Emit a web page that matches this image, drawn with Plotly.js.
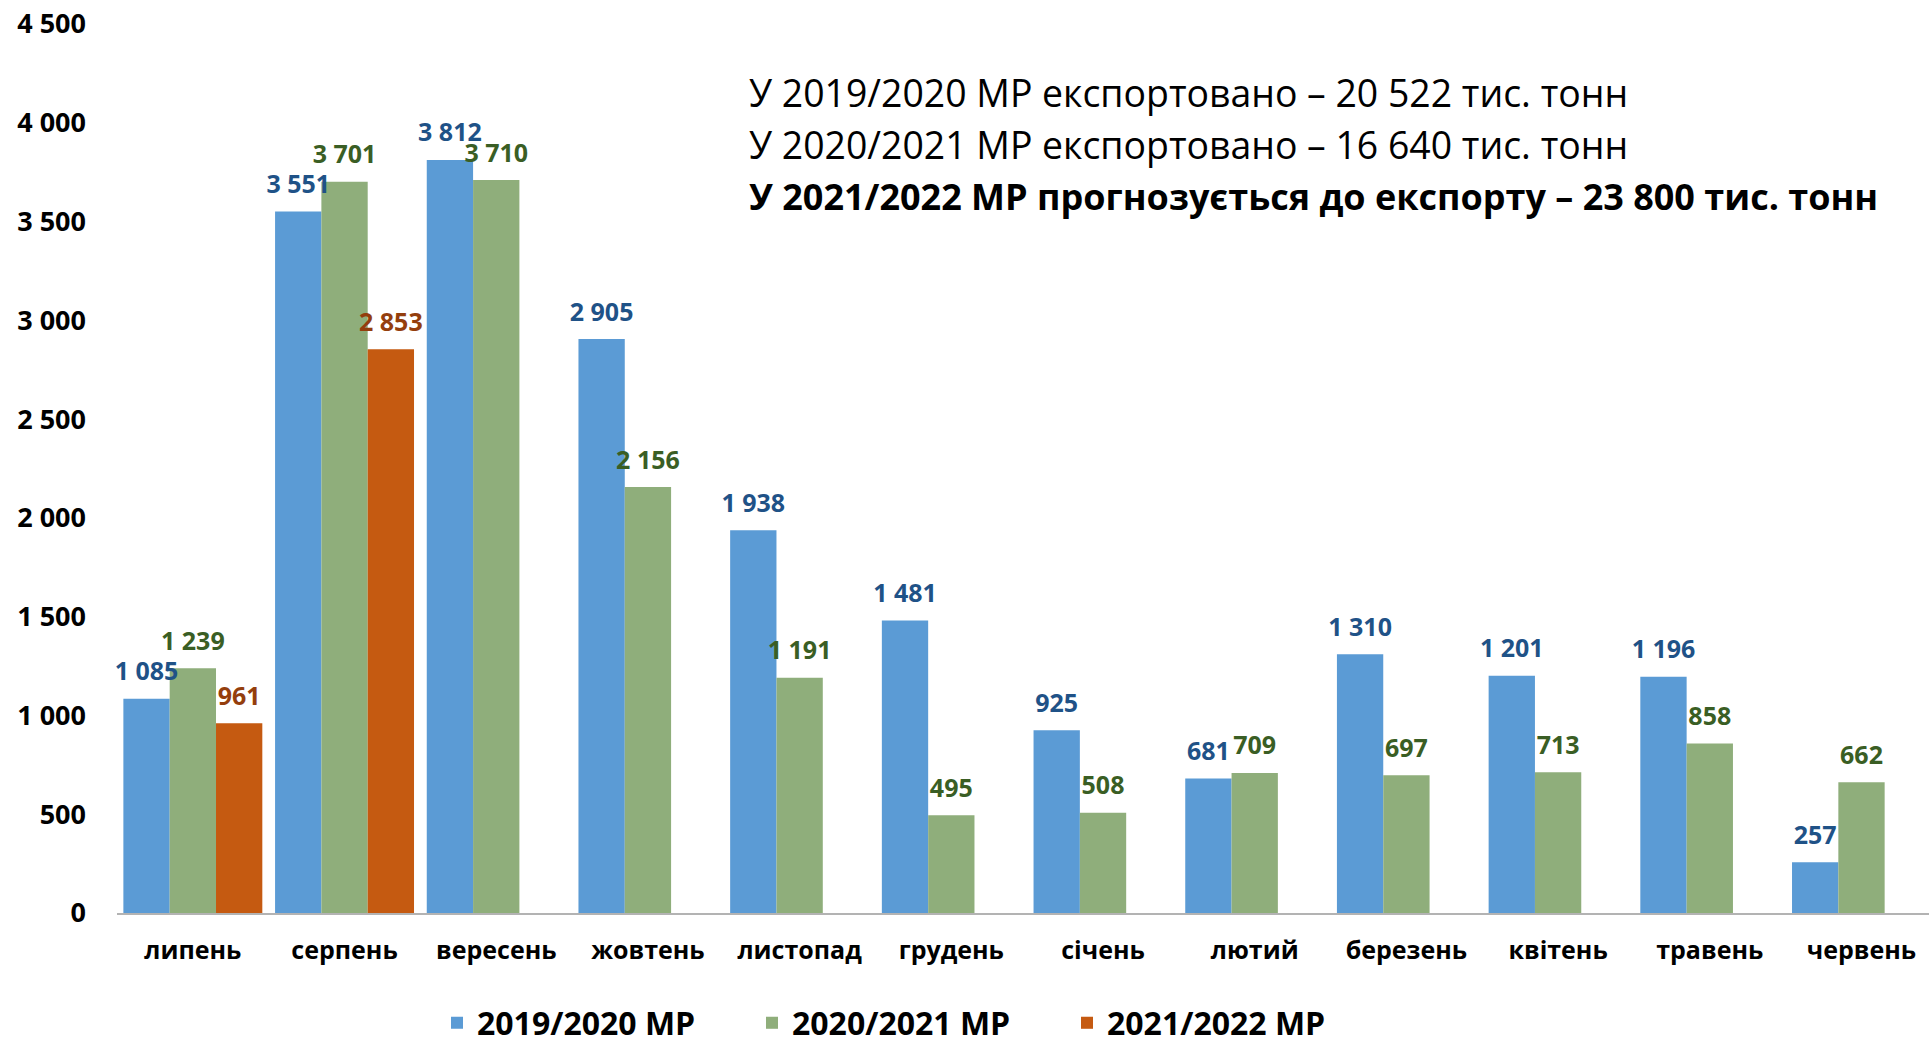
<!DOCTYPE html>
<html>
<head>
<meta charset="utf-8">
<script src="https://cdn.plot.ly/plotly-3.0.1.min.js"></script>
<style>html,body{margin:0;padding:0;background:#fff;}#chart{width:1929px;height:1046px;}</style>
</head>
<body>
<div id="chart"></div>
<script>
const months = ['липень','серпень','вересень','жовтень','листопад','грудень','січень','лютий','березень','квітень','травень','червень'];
const seriesNames = ['2019/2020 МР','2020/2021 МР','2021/2022 МР'];
const v2019 = [1085,3551,3812,2905,1938,1481,925,681,1310,1201,1196,257];
const v2020 = [1239,3701,3710,2156,1191,495,508,709,697,713,858,662];
const v2021 = [961,2853,null,null,null,null,null,null,null,null,null,null];
const yTickVals = [0,500,1000,1500,2000,2500,3000,3500,4000,4500];
const noteLines = [
  'У 2019/2020 МР експортовано – 20 522 тис. тонн',
  'У 2020/2021 МР експортовано – 16 640 тис. тонн',
  '<b>У 2021/2022 МР прогнозується до експорту – 23 800 тис. тонн</b>'
];

const FONT = 'Open Sans, Noto Sans, sans-serif';
const fmt = v => (v === null ? '' : String(v).replace(/\B(?=(\d{3})+(?!\d))/g, ' '));

const colors = ['#5B9BD5', '#8FAE7B', '#C55A11'];
const labelColors = ['#1F5287', '#3A5E24', '#943E0D'];
const allSeries = [v2019, v2020, v2021];

const data = [];
allSeries.forEach((vals, i) => {
  data.push({
    type: 'bar', name: seriesNames[i], x: months, y: vals,
    offsetgroup: 'g' + i,
    marker: {color: colors[i]}, hoverinfo: 'none'
  });
});
allSeries.forEach((vals, i) => {
  data.push({
    type: 'scatter', mode: 'markers+text', x: months, y: vals,
    offsetgroup: 'g' + i, showlegend: false, hoverinfo: 'none',
    text: vals.map(fmt), textposition: 'top center', cliponaxis: false,
    textfont: {family: FONT, size: 25, color: labelColors[i], weight: 'bold'},
    marker: {size: 18, opacity: 0, color: colors[i], line: {width: 0}}
  });
});

const noteY = [0.9224, 0.8642, 0.8057];
const noteSize = [37.4, 37.4, 36];
const layout = {
  width: 1929, height: 1046, autosize: false,
  margin: {l: 117, r: 0, t: 24, b: 133, pad: 0, autoexpand: false},
  paper_bgcolor: '#fff', plot_bgcolor: '#fff',
  barmode: 'group', bargap: 0.084, bargroupgap: 0,
  scattermode: 'group', scattergap: 0.084,
  showlegend: true,
  legend: {
    orientation: 'h', xref: 'paper', x: 0.1766, xanchor: 'left',
    yref: 'container', y: 0.022, yanchor: 'middle',
    font: {family: FONT, size: 32, color: '#000', weight: 'bold'},
    entrywidth: 270, entrywidthmode: 'pixels', traceorder: 'normal'
  },
  xaxis: {
    type: 'category', range: [-0.5, 11.445],
    showline: true, linecolor: '#B3B3B3', linewidth: 2,
    ticks: '', showgrid: false, zeroline: false,
    tickfont: {family: FONT, size: 25, color: '#000', weight: 'bold'},
    ticklabelstandoff: 14, automargin: false
  },
  yaxis: {
    range: [0, 4500], tickvals: yTickVals, ticktext: yTickVals.map(fmt),
    showgrid: false, zeroline: false, showline: false, ticks: '',
    tickfont: {family: FONT, size: 27, color: '#000', weight: 'bold'},
    ticklabelstandoff: 30, automargin: false
  },
  annotations: noteLines.map((t, i) => ({
    text: t, xref: 'paper', yref: 'paper', x: 0.3477, y: noteY[i],
    xanchor: 'left', yanchor: 'middle', showarrow: false, align: 'left',
    font: {family: FONT, size: noteSize[i], color: '#000'}
  }))
};

Plotly.newPlot('chart', data, layout, {displayModeBar: false, staticPlot: true});
</script>
</body>
</html>
